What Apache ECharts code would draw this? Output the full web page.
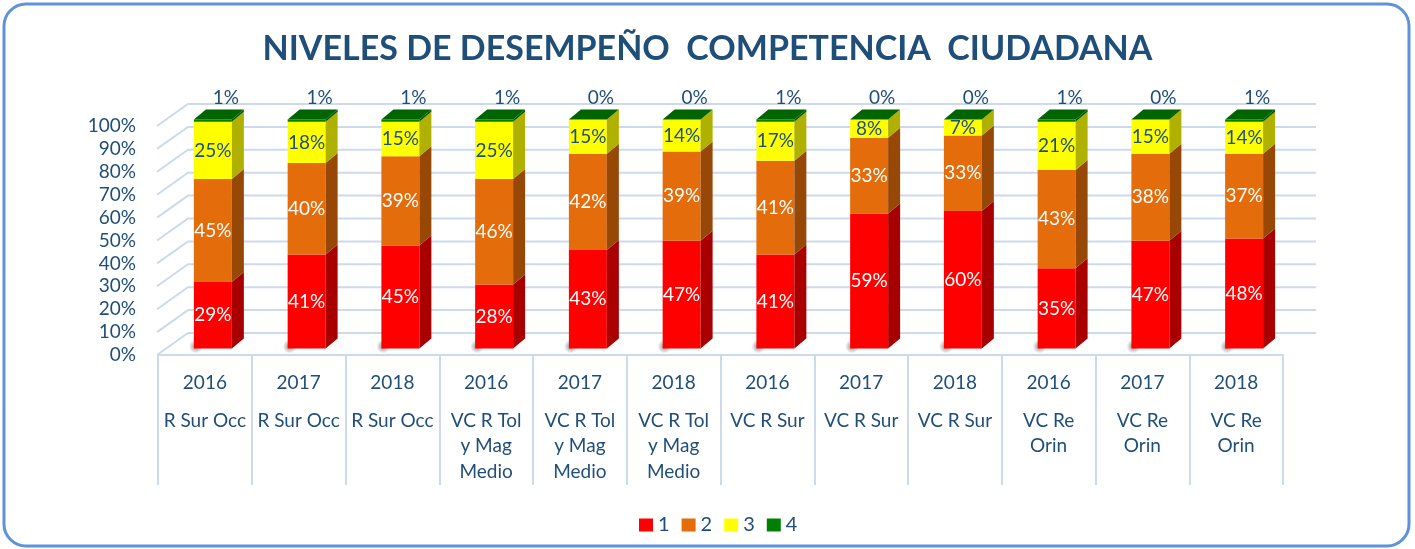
<!DOCTYPE html>
<html>
<head>
<meta charset="utf-8">
<script src="https://cdn.jsdelivr.net/npm/echarts@6/dist/echarts.min.js"></script>
<style>
html, body { margin: 0; padding: 0; background: #fff; }
#main { width: 1415px; height: 549px; }
</style>
</head>
<body>
<div id="main"></div>
<script>
var years = ['2016', '2017', '2018', '2016', '2017', '2018', '2016', '2017', '2018', '2016', '2017', '2018'];
var regions = ['R Sur Occ', 'R Sur Occ', 'R Sur Occ',
    'VC R Tol\ny Mag\nMedio', 'VC R Tol\ny Mag\nMedio', 'VC R Tol\ny Mag\nMedio',
    'VC R Sur', 'VC R Sur', 'VC R Sur',
    'VC Re\nOrin', 'VC Re\nOrin', 'VC Re\nOrin'];
var nivel1 = [29, 41, 45, 28, 43, 47, 41, 59, 60, 35, 47, 48];
var nivel2 = [45, 40, 39, 46, 42, 39, 41, 33, 33, 43, 38, 37];
var nivel3 = [25, 18, 15, 25, 15, 14, 17, 8, 7, 21, 15, 14];
var nivel4 = [1, 1, 1, 1, 0, 0, 1, 0, 0, 1, 0, 1];
var yTicks = [0, 10, 20, 30, 40, 50, 60, 70, 80, 90, 100];

var levels = [nivel1, nivel2, nivel3, nivel4];
var names = ['1', '2', '3', '4'];
var front = ['#FF0000', '#E46C0A', '#FFFF00', '#008000'];
var side = ['#A80000', '#974806', '#B0B000', '#005A00'];
var labelColor = ['#FFFFFF', '#FFFFFF', '#1F4E79', '#1F4E79'];
var textBlue = '#1F4E79';
var lineBlue = '#CDDAED';
var font = 'Lato, "Open Sans", sans-serif';

var categories = years.map(function (y, i) { return y + '|' + regions[i]; });

var dom = document.getElementById('main');
var chart = echarts.init(dom);

// depth of a column and of the whole plot box
var colDx = 12, colDy = -10;
var wallDx = 31, wallDy = -22;
var lift = -6.5;

function barRender(k) {
    return function (params, api) {
        var i = api.value(0);
        var base = 0;
        for (var s = 0; s < k; s++) base += levels[s][i];
        var val = levels[k][i];
        var bw = api.size([1, 0])[0];
        var c = api.coord([i, 0]);
        var w = bw * 0.405;
        var x0 = c[0] + 8 - w / 2, x1 = x0 + w;
        var yb = api.coord([i, base])[1] + lift;
        var yt = api.coord([i, base + val])[1] + lift;
        var children = [];
        if (k === 0) {
            children.push({
                type: 'ellipse',
                shape: { cx: x0 + 2, cy: yb - 2, rx: 44, ry: 7 },
                style: {
                    fill: new echarts.graphic.RadialGradient(0.5, 0.5, 0.5, [
                        { offset: 0, color: 'rgba(0,0,0,0.45)' },
                        { offset: 1, color: 'rgba(0,0,0,0)' }
                    ])
                }
            });
        }
        children.push({
            type: 'rect',
            shape: { x: x0, y: yt, width: w, height: yb - yt },
            style: { fill: front[k] }
        });
        children.push({
            type: 'polygon',
            shape: { points: [[x1, yt], [x1 + colDx, yt + colDy], [x1 + colDx, yb + colDy], [x1, yb]] },
            style: { fill: side[k] }
        });
        if (k === 3) {
            children.push({
                type: 'polygon',
                shape: { points: [[x0, yt], [x0 + colDx, yt + colDy], [x1 + colDx, yt + colDy], [x1, yt]] },
                style: { fill: '#006400' }
            });
            children.push({
                type: 'text',
                style: {
                    text: val + '%', x: (x0 + x1) / 2 + 13, y: yt - 22,
                    fill: textBlue, font: '19px ' + font,
                    align: 'center', verticalAlign: 'middle',
                    textAlign: 'center', textVerticalAlign: 'middle'
                }
            });
        } else {
            children.push({
                type: 'text',
                style: {
                    text: val + '%', x: (x0 + x1) / 2, y: (yt + yb) / 2,
                    fill: labelColor[k], font: '19px ' + font,
                    align: 'center', verticalAlign: 'middle',
                    textAlign: 'center', textVerticalAlign: 'middle'
                }
            });
        }
        return { type: 'group', children: children };
    };
}

function wallRender(params, api) {
    var cs = params.coordSys;
    var v = api.value(1);
    var y = api.coord([0, v])[1];
    var xl = cs.x - 1;
    return {
        type: 'polyline',
        shape: { points: [[xl, y], [xl + wallDx, y + wallDy], [cs.x + cs.width + 33, y + wallDy]] },
        style: { stroke: lineBlue, lineWidth: 2, fill: null }
    };
}

var series = [{
    type: 'custom',
    name: 'wall',
    renderItem: wallRender,
    data: yTicks.map(function (v) { return [0, v]; }),
    silent: true,
    z: 1
}];
levels.forEach(function (lv, k) {
    series.push({
        type: 'custom',
        name: names[k],
        renderItem: barRender(k),
        itemStyle: { color: front[k] },
        data: lv.map(function (v, i) { return [i, v]; }),
        z: 2 + k
    });
});

chart.setOption({
    animation: false,
    title: {
        text: 'NIVELES DE DESEMPEÑO  COMPETENCIA  CIUDADANA',
        left: 'center',
        top: 27,
        textStyle: { fontSize: 34, fontWeight: 'bold', color: textBlue, fontFamily: font }
    },
    legend: {
        data: names,
        left: 634,
        top: 510,
        icon: 'rect',
        itemWidth: 14,
        itemHeight: 13,
        itemGap: 12,
        textStyle: { fontSize: 20, color: textBlue, fontFamily: font }
    },
    grid: { left: 158, right: 132, top: 126, bottom: 194 },
    xAxis: {
        type: 'category',
        data: categories,
        axisLine: { show: true, lineStyle: { color: lineBlue, width: 2 } },
        axisTick: { show: true, length: 130, interval: 0, lineStyle: { color: lineBlue, width: 2 } },
        axisLabel: {
            interval: 0,
            margin: 3,
            formatter: function (v) {
                var p = v.split('|');
                var lines = p[1].split('\n').map(function (s) { return '{n|' + s + '}'; });
                return '{y|' + p[0] + '}\n' + lines.join('\n');
            },
            rich: {
                y: { fontSize: 19, lineHeight: 50, color: textBlue, fontFamily: font },
                n: { fontSize: 19, lineHeight: 25.5, color: textBlue, fontFamily: font }
            }
        }
    },
    yAxis: {
        type: 'value',
        min: 0,
        max: 100,
        interval: 10,
        axisLine: { show: false },
        axisTick: { show: false },
        splitLine: { show: false },
        axisLabel: { formatter: '{value}%', fontSize: 19, margin: 22, color: textBlue, fontFamily: font }
    },
    graphic: [{
        type: 'rect',
        shape: { x: 4, y: 4, width: 1405, height: 542, r: 22 },
        style: { fill: null, stroke: '#5F93D9', lineWidth: 3 },
        silent: true,
        z: 100
    }],
    series: series
});
</script>
</body>
</html>
